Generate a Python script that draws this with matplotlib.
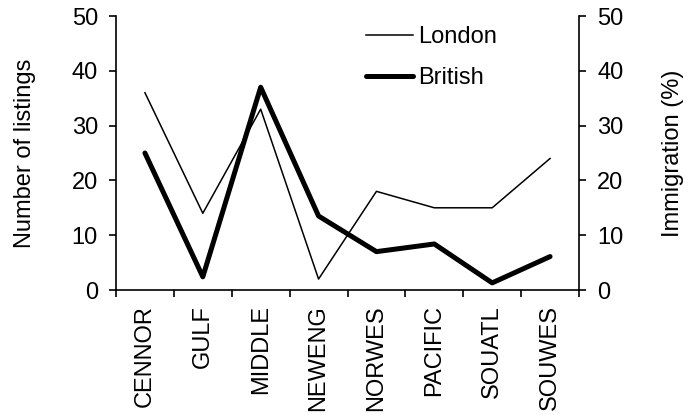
import matplotlib
matplotlib.use("Agg")
import matplotlib.pyplot as plt
import numpy as np

categories = ["CENNOR", "GULF", "MIDDLE", "NEWENG", "NORWES", "PACIFIC", "SOUATL", "SOUWES"]
london = [36, 14, 33, 2, 18, 15, 15, 24]
british = [25, 2.4, 37, 13.5, 7, 8.4, 1.3, 6.1]
yticks = [0, 10, 20, 30, 40, 50]

FS = 17
plt.rcParams['font.family'] = ['Liberation Sans', 'DejaVu Sans']
plt.rcParams['font.size'] = FS

fig = plt.figure(figsize=(6.89, 4.15), dpi=100)
ax = fig.add_axes([116/689, 1-290/415, (579-116)/689, (290-16)/415])
ax2 = ax.twinx()

x = np.arange(len(categories))
l1, = ax.plot(x, london, color='black', lw=1.1, label='London')
l2, = ax2.plot(x, british, color='black', lw=3.6, solid_capstyle='round', label='British')

for a in (ax, ax2):
    a.set_ylim(0, 50)
    a.set_yticks(yticks)
    a.spines['top'].set_visible(False)
    for s in a.spines.values():
        s.set_linewidth(1.2)
    a.tick_params(axis='y', length=5, width=1.2, labelsize=FS, pad=8)
ax.spines['right'].set_visible(False)
ax2.spines['left'].set_visible(False)
ax2.spines['bottom'].set_visible(False)

ax.set_xlim(-0.5, len(categories) - 0.5)
ax.set_xticks(np.arange(-0.5, len(categories)))
ax.set_xticklabels([])
ax.set_xticks(x, minor=True)
ax.set_xticklabels(categories, minor=True, rotation=90)
ax.tick_params(axis='x', which='major', length=5, width=1.2)
ax.tick_params(axis='x', which='minor', length=0, pad=11, labelsize=FS)

ax.set_ylabel("Number of listings", fontsize=FS, labelpad=26)
ax2.set_ylabel("Immigration (%)", fontsize=FS, labelpad=28)

ax2.legend(handles=[l1, l2], loc='upper left', bbox_to_anchor=(366/689, 1-26/415),
           bbox_transform=fig.transFigure, frameon=False,
           handlelength=2.0, handletextpad=0.2, labelspacing=0.8, fontsize=FS,
           borderaxespad=0, borderpad=0)

fig.savefig("out.png", dpi=100)
